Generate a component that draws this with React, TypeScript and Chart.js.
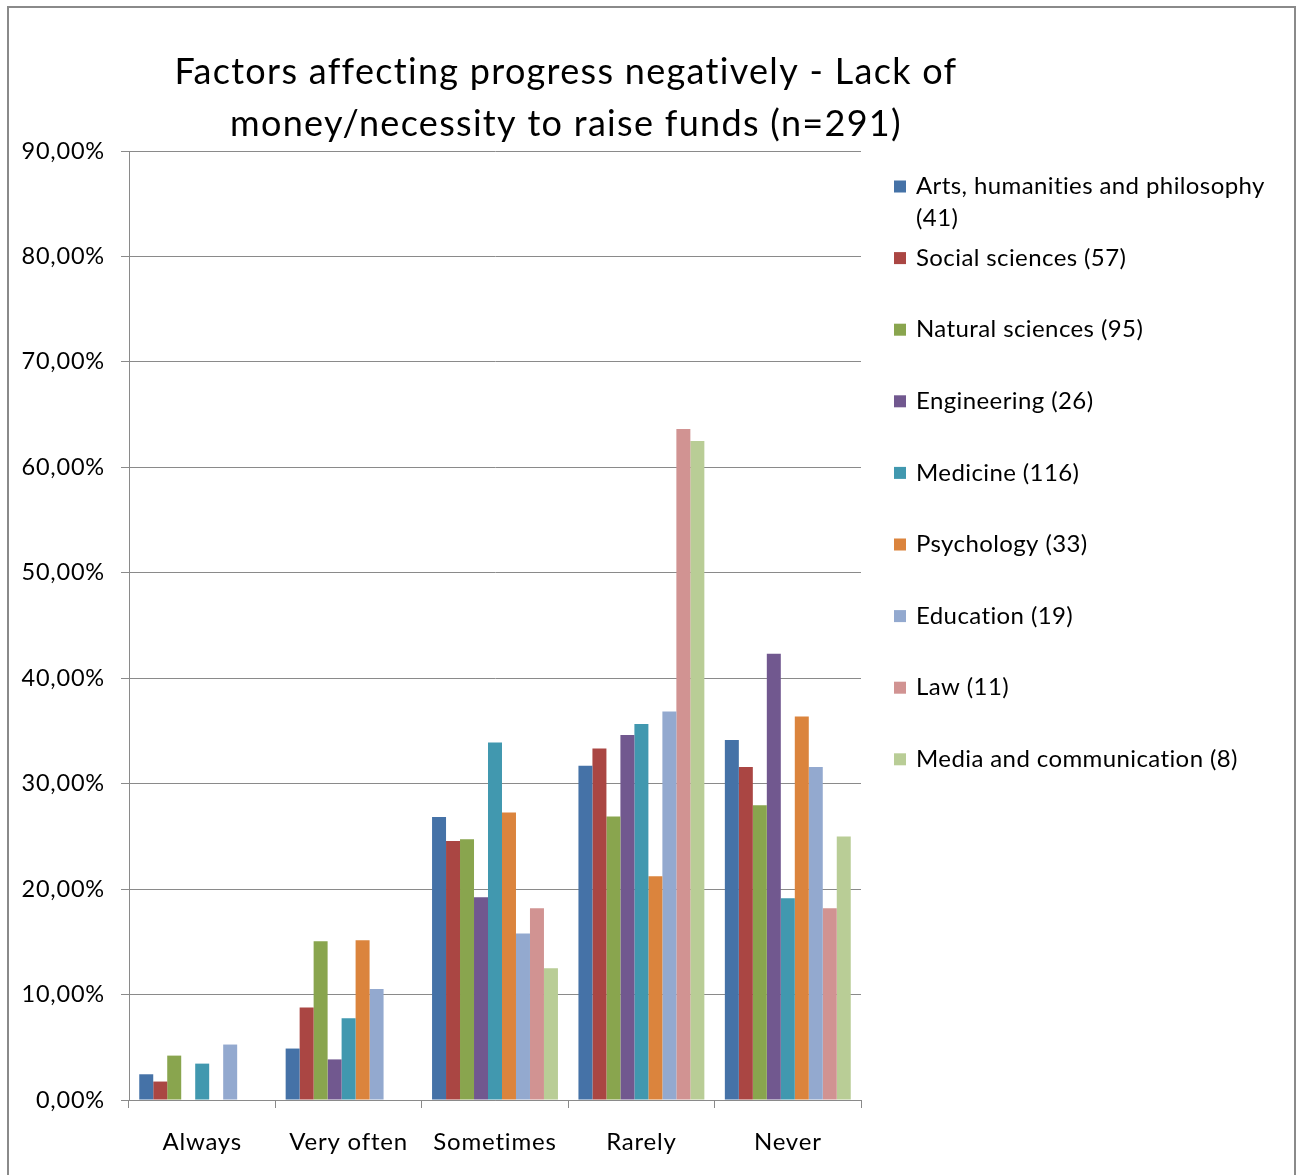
import React, { useEffect, useRef } from "react";
import { Chart, registerables } from "chart.js";

Chart.register(...registerables);

const titleLines = ["Factors affecting progress negatively - Lack of", "money/necessity to raise funds (n=291)"];
const categories = ["Always", "Very often", "Sometimes", "Rarely", "Never"];
const seriesNames = [
  "Arts, humanities and philosophy (41)",
  "Social sciences (57)",
  "Natural sciences (95)",
  "Engineering (26)",
  "Medicine (116)",
  "Psychology (33)",
  "Education (19)",
  "Law (11)",
  "Media and communication (8)",
];
const arts = [2.44, 4.88, 26.83, 31.71, 34.15];
const social = [1.75, 8.77, 24.56, 33.33, 31.58];
const natural = [4.21, 15.05, 24.73, 26.88, 27.96];
const engineering = [0, 3.85, 19.23, 34.62, 42.31];
const medicine = [3.45, 7.76, 33.91, 35.65, 19.13];
const psychology = [0, 15.15, 27.27, 21.21, 36.36];
const education = [5.26, 10.53, 15.79, 36.84, 31.58];
const law = [0, 0, 18.18, 63.64, 18.18];
const media = [0, 0, 12.5, 62.5, 25.0];
const yTicks = [0, 10, 20, 30, 40, 50, 60, 70, 80, 90];

const seriesValues = [arts, social, natural, engineering, medicine, psychology, education, law, media];
const colors = ["#4572A7", "#AA4643", "#89A54E", "#71588F", "#4198AF", "#DB843D", "#93A9CF", "#D19392", "#B9CD96"];

const FONT = "Lato, 'Open Sans', sans-serif";

const decorPlugin = {
  id: "decor",
  beforeDraw(chart: any) {
    (chart.ctx as any).letterSpacing = "0.8px";
  },
  afterDraw(chart: any) {
    const ctx = chart.ctx as any;
    ctx.save();
    // outer border
    ctx.strokeStyle = "#8a8a8a";
    ctx.lineWidth = 2;
    ctx.strokeRect(8, 7, 1287, 1200);
    // title
    ctx.fillStyle = "#000";
    ctx.font = `36px ${FONT}`;
    ctx.letterSpacing = "1.3px";
    ctx.textAlign = "center";
    ctx.textBaseline = "middle";
    titleLines.forEach((t, i) => ctx.fillText(t, 566, 72 + i * 52));
    // legend
    ctx.font = `24px ${FONT}`;
    ctx.letterSpacing = "0.4px";
    ctx.textAlign = "left";
    const x0 = 894;
    const y0 = 186.5;
    const step = 71.6;
    chart.data.datasets.forEach((ds: any, i: number) => {
      const y = y0 + i * step;
      ctx.fillStyle = ds.backgroundColor;
      ctx.fillRect(x0, y - 6, 12, 12);
      ctx.fillStyle = "#000";
      const words = String(ds.label).split(" ");
      const lines: string[] = [];
      let cur = "";
      for (const w of words) {
        const test = cur ? cur + " " + w : w;
        if (ctx.measureText(test).width > 362 && cur) {
          lines.push(cur);
          cur = w;
        } else cur = test;
      }
      if (cur) lines.push(cur);
      lines.forEach((l, j) => ctx.fillText(l, x0 + 22, y + j * 32));
    });
    ctx.restore();
  },
};

export default function App() {
  const ref = useRef<HTMLCanvasElement>(null);
  useEffect(() => {
    if (!ref.current) return;
    const chart = new Chart(ref.current, {
      type: "bar",
      data: {
        labels: categories,
        datasets: seriesNames.map((name, i) => ({
          label: name,
          data: seriesValues[i],
          backgroundColor: colors[i],
          borderWidth: 0,
          categoryPercentage: 0.86,
          barPercentage: 1.0,
        })),
      },
      options: {
        responsive: false,
        animation: false,
        layout: { padding: { left: 0, right: 435, top: 151, bottom: 0 } },
        plugins: {
          legend: { display: false },
          title: { display: false },
          tooltip: { enabled: false },
        },
        scales: {
          x: {
            grid: {
              display: true,
              drawOnChartArea: false,
              drawTicks: true,
              tickLength: 8,
              color: "#8a8a8a",
              offset: true,
            },
            border: { color: "#8a8a8a", width: 1 },
            ticks: { color: "#000", font: { family: FONT, size: 24 }, padding: 20 },
            afterFit: (s: any) => {
              s.height = 75;
            },
          },
          y: {
            min: 0,
            max: 90,
            afterBuildTicks: (s: any) => {
              s.ticks = yTicks.map((v) => ({ value: v }));
            },
            grid: { color: "#8a8a8a", tickLength: 8, lineWidth: 1 },
            border: { color: "#8a8a8a", width: 1 },
            ticks: {
              color: "#000",
              font: { family: FONT, size: 23.5 },
              padding: 16,
              callback: (v: any) => Number(v).toFixed(2).replace(".", ",") + "%",
            },
            afterFit: (s: any) => {
              s.width = 129;
            },
          },
        },
      },
      plugins: [decorPlugin],
    });
    return () => chart.destroy();
  }, []);
  return (
    <div style={{ position: "absolute", left: 0, top: 0, width: 1296, height: 1175, background: "#fff" }}>
      <canvas ref={ref} width={1296} height={1175} style={{ width: 1296, height: 1175, display: "block" }} />
    </div>
  );
}
